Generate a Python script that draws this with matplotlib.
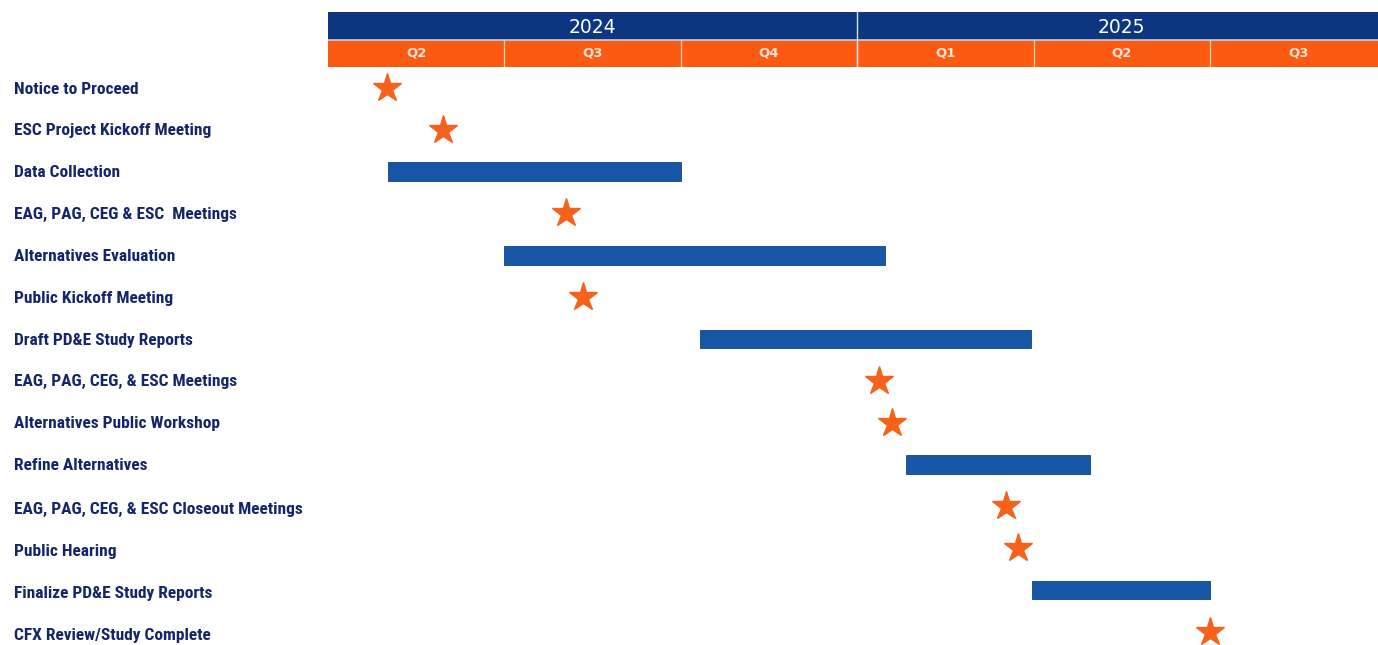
import matplotlib
matplotlib.use("Agg")
import matplotlib.pyplot as plt
from matplotlib import font_manager as fm

# ---- data (months since 1 Apr 2024) ----
tasks = [
    "Notice to Proceed",
    "ESC Project Kickoff Meeting",
    "Data Collection",
    "EAG, PAG, CEG & ESC  Meetings",
    "Alternatives Evaluation",
    "Public Kickoff Meeting",
    "Draft PD&E Study Reports",
    "EAG, PAG, CEG, & ESC Meetings",
    "Alternatives Public Workshop",
    "Refine Alternatives",
    "EAG, PAG, CEG, & ESC Closeout Meetings",
    "Public Hearing",
    "Finalize PD&E Study Reports",
    "CFX Review/Study Complete",
]
task_kind = ["milestone", "milestone", "bar", "milestone", "bar", "milestone", "bar",
             "milestone", "milestone", "bar", "milestone", "milestone", "bar", "milestone"]
task_start = [1.0, 1.95, 1.02, 4.05, 3.0, 4.33, 6.32, 9.37, 9.6, 9.83, 11.53, 11.73, 11.97, 15.0]
task_end = [1.0, 1.95, 6.0, 4.05, 9.47, 4.33, 11.96, 9.37, 9.6, 12.96, 11.53, 11.73, 15.0, 15.0]

years = ["2024", "2025"]
year_start = [0, 9]
year_end = [9, 18]
quarters = ["Q2", "Q3", "Q4", "Q1", "Q2", "Q3"]
quarter_start = [0, 3, 6, 9, 12, 15]

# ---- pick a condensed bold font if available ----
label_fp = None
cands = []
for f in fm.fontManager.ttflist:
    nm = f.name.lower()
    narrow = ("narrow" in nm or "condensed" in nm or "condensed" in str(f.stretch)
              or "condensed" in f.fname.lower())
    w = f.weight if isinstance(f.weight, int) else (700 if "bold" in str(f.weight) else 400)
    if narrow and 600 <= w <= 800 and "oblique" not in f.fname.lower() and "italic" not in f.fname.lower():
        cands.append(f)
pref = ["liberation sans narrow", "roboto condensed", "open sans condensed", "dejavu sans"]
cands.sort(key=lambda f: next((i for i, p in enumerate(pref) if p in f.name.lower()), 99))
if cands:
    label_fp = fm.FontProperties(fname=cands[0].fname, size=12.55)
    is_dejavu = "dejavu" in cands[0].name.lower()
else:
    label_fp = fm.FontProperties(family="Roboto", weight="bold", size=11.5)
    is_dejavu = False
if is_dejavu:
    label_fp.set_size(12)

# ---- style ----
W, H = 1378, 645
BAR = "#1757a6"
STAR = "#f6621b"
NAVY = "#0c3680"
ORANGE = "#fb5a12"
TEXT = "#14266b"
XMAX = (W - 328) / 58.8

fig = plt.figure(figsize=(W / 100, H / 100), dpi=100)
fig.patch.set_facecolor("white")

def fx(px):
    return px / W

def fy(py):
    return 1 - py / H

# main axes
ax = fig.add_axes([fx(328), fy(645), 1 - fx(328), fy(67) - fy(645)])
ax.set_xlim(0, XMAX)
ax.set_ylim(13.31, -0.5)
ax.axis("off")

for i, (k, s, e) in enumerate(zip(task_kind, task_start, task_end)):
    if k == "bar":
        ax.barh(i, e - s, left=s, height=0.44, color=BAR, edgecolor="#0f468c", linewidth=0.6)
    else:
        ax.plot(s, i, marker="*", markersize=21, color=STAR, markeredgecolor=STAR, clip_on=False)

# labels
for i, t in enumerate(tasks):
    ypx = 89 + 41.85 * i
    if i >= 10:
        ypx += 2
    fig.text(fx(14), fy(ypx), t, ha="left", va="center", fontproperties=label_fp, color=TEXT)

# header axes
hx = fig.add_axes([fx(328), fy(67), 1 - fx(328), fy(12) - fy(67)])
hx.set_xlim(0, XMAX)
hx.set_ylim(0, 2)
hx.axis("off")
for y, s, e in zip(years, year_start, year_end):
    hx.barh(1.5, e - s, left=s, height=1.0, color=NAVY, linewidth=0)
    hx.text((s + e) / 2, 1.45, y, ha="center", va="center", color="white", fontsize=13.5,
            family="DejaVu Sans")
for q, s in zip(quarters, quarter_start):
    hx.barh(0.5, 3, left=s, height=1.0, color=ORANGE, linewidth=0)
    hx.text(s + 1.5, 0.5, q, ha="center", va="center", color="#fde3d3", fontsize=9.5,
            fontweight="bold", family="DejaVu Sans")
for s in quarter_start[1:]:
    hx.plot([s, s], [0, 1], color="#fbd2bd", lw=0.9)
hx.plot([9, 9], [0, 2], color="#d9e2f0", lw=1.0)
hx.plot([0, XMAX], [1, 1], color="#c9cfdc", lw=1.2)

fig.savefig("out.png", dpi=100, facecolor="white")
